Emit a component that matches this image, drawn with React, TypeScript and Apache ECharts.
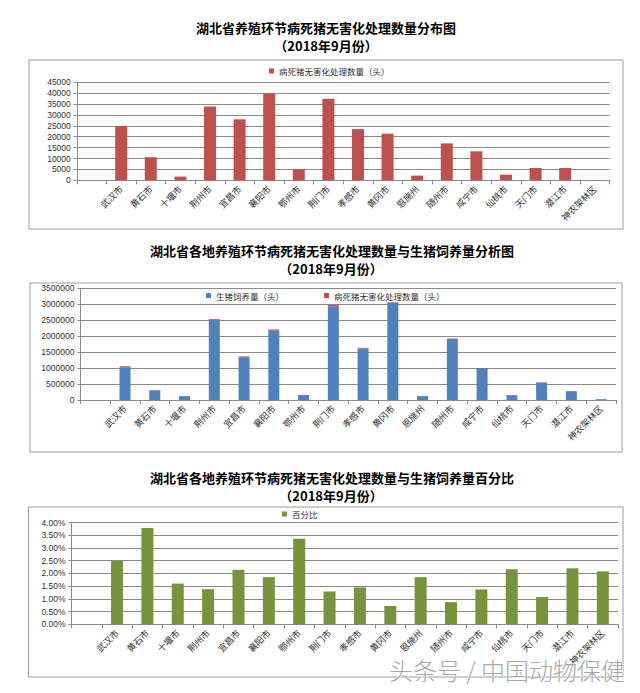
import React, { useEffect, useRef } from "react";
import * as echarts from "echarts";

const categories = ["", "武汉市", "黄石市", "十堰市", "荆州市", "宜昌市", "襄阳市", "鄂州市", "荆门市", "孝感市", "黄冈市", "恩施州", "随州市", "咸宁市", "仙桃市", "天门市", "潜江市", "神农架林区"];

const deaths = [null, 24900, 10600, 1700, 33900, 28000, 39900, 5050, 37500, 23500, 21400, 2150, 16950, 13300, 2600, 5650, 5650, 50];
const pigs = [null, 1030000, 300000, 120000, 2500000, 1340000, 2170000, 155000, 2940000, 1610000, 3040000, 120000, 1910000, 990000, 150000, 550000, 275000, 25000];
const percent = [null, 0.0249, 0.0378, 0.016, 0.0138, 0.0214, 0.0185, 0.0336, 0.0129, 0.0145, 0.0072, 0.0185, 0.0087, 0.0137, 0.0216, 0.0107, 0.022, 0.0208];

const axis1 = { min: 0, max: 45000, interval: 5000 };
const axis2 = { min: 0, max: 3500000, interval: 500000 };
const axis3 = { min: 0, max: 0.04, interval: 0.005 };

const titles = [
  "湖北省养殖环节病死猪无害化处理数量分布图",
  "湖北省各地养殖环节病死猪无害化处理数量与生猪饲养量分析图",
  "湖北省各地养殖环节病死猪无害化处理数量与生猪饲养量百分比",
];
const subtitle = "（2018年9月份）";
const nameDeaths = "病死猪无害化处理数量（头）";
const namePigs = "生猪饲养量（头）";
const namePct = "百分比";
const watermark = "头条号 / 中国动物保健";

const RED = "#C0504D";
const BLUE = "#4F81BD";
const GREEN = "#77933C";
const GRID = "#8a8a8a";
const CJK = "Noto Sans CJK SC";
const NUM = "Liberation Sans";

export default function App() {
  const ref = useRef<HTMLDivElement>(null);
  useEffect(() => {
    if (!ref.current) return;
    const chart = echarts.init(ref.current, null, { renderer: "svg" });

    const xAxisBase = (gridIndex: number) => ({
      type: "category",
      gridIndex,
      data: categories,
      axisLine: { lineStyle: { color: GRID, width: 1 } },
      axisTick: { show: true, length: 4, lineStyle: { color: GRID } },
      axisLabel: {
        interval: 0,
        rotate: 45,
        fontSize: 9,
        color: "#333",
        fontFamily: CJK,
        margin: 7,
      },
    });
    const yAxisBase = (gridIndex: number, ax: any, fmt: any) => ({
      type: "value",
      gridIndex,
      min: ax.min,
      max: ax.max,
      interval: ax.interval,
      axisLine: { show: true, lineStyle: { color: GRID, width: 1 } },
      axisTick: { show: true, length: 3, lineStyle: { color: GRID } },
      splitLine: { show: true, lineStyle: { color: GRID, width: 1 } },
      axisLabel: {
        fontSize: 8.5,
        color: "#333",
        fontFamily: NUM,
        margin: 6,
        formatter: fmt,
      },
    });

    const titleText = (text: string, x: number, y: number) => ({
      type: "text",
      x,
      y,
      style: {
        text,
        fontSize: 13,
        lineHeight: 15,
        fontWeight: "bold",
        fontFamily: CJK,
        fill: "#000",
        textAlign: "center",
        textVerticalAlign: "middle",
      },
    });
    const box = (x: number, y: number, w: number, h: number) => ({
      type: "rect",
      shape: { x, y, width: w, height: h },
      style: { fill: "none", stroke: "#9a9a9a", lineWidth: 1 },
      z: 0,
    });

    const legendText = { fontSize: 8.5, color: "#333", fontFamily: CJK, lineHeight: 10 };
    const plain = (v: number) => String(Math.round(v));

    chart.setOption({
      animation: false,
      backgroundColor: "#fff",
      grid: [
        { left: 76.8, top: 82.3, width: 532.8, height: 98 },
        { left: 80.4, top: 288.3, width: 535.6, height: 111.7 },
        { left: 71.5, top: 522.5, width: 546.5, height: 101.8 },
      ],
      legend: [
        {
          left: 269,
          top: 66,
          padding: 0,
          itemWidth: 5,
          itemHeight: 5,
          itemGap: 40,
          textStyle: legendText,
          data: [{ name: nameDeaths, icon: "rect" }],
        },
        {
          left: 206,
          top: 290.5,
          padding: 0,
          itemWidth: 5,
          itemHeight: 5,
          itemGap: 40,
          textStyle: legendText,
          data: [
            { name: namePigs, icon: "rect" },
            { name: nameDeaths, icon: "rect" },
          ],
        },
        {
          left: 282,
          top: 509,
          padding: 0,
          itemWidth: 5,
          itemHeight: 5,
          textStyle: legendText,
          data: [{ name: namePct, icon: "rect" }],
        },
      ],
      xAxis: [xAxisBase(0), xAxisBase(1), xAxisBase(2)],
      yAxis: [
        yAxisBase(0, axis1, plain),
        yAxisBase(1, axis2, plain),
        yAxisBase(2, axis3, (v: number) => (v * 100).toFixed(2) + "%"),
      ],
      series: [
        {
          type: "bar",
          name: nameDeaths,
          xAxisIndex: 0,
          yAxisIndex: 0,
          data: deaths,
          barWidth: 12,
          itemStyle: { color: RED },
        },
        {
          type: "bar",
          name: namePigs,
          xAxisIndex: 1,
          yAxisIndex: 1,
          data: pigs,
          stack: "total",
          barWidth: 11,
          itemStyle: { color: BLUE },
        },
        {
          type: "bar",
          name: nameDeaths,
          xAxisIndex: 1,
          yAxisIndex: 1,
          data: deaths,
          stack: "total",
          barWidth: 11,
          itemStyle: { color: RED },
        },
        {
          type: "bar",
          name: namePct,
          xAxisIndex: 2,
          yAxisIndex: 2,
          data: percent,
          barWidth: 12,
          itemStyle: { color: GREEN },
        },
      ],
      graphic: [
        box(29, 60, 594, 169),
        box(30, 283, 592, 169),
        box(28.5, 507, 594.5, 170),
        titleText(titles[0], 326, 27),
        titleText(subtitle, 326, 45),
        titleText(titles[1], 332, 250),
        titleText(subtitle, 331, 268),
        titleText(titles[2], 332, 477),
        titleText(subtitle, 331, 495),
        {
          type: "text",
          x: 625,
          y: 669,
          z: 100,
          style: {
            text: watermark,
            fontSize: 24,
            fontFamily: CJK,
            fontWeight: 300,
            fill: "#a8a8a8",
            stroke: "#ffffff",
            lineWidth: 1,
            textAlign: "right",
            textVerticalAlign: "middle",
          },
        },
      ],
    });
    return () => chart.dispose();
  }, []);

  return (
    <div
      ref={ref}
      style={{ position: "absolute", left: 0, top: 0, width: 640, height: 693 }}
    />
  );
}
